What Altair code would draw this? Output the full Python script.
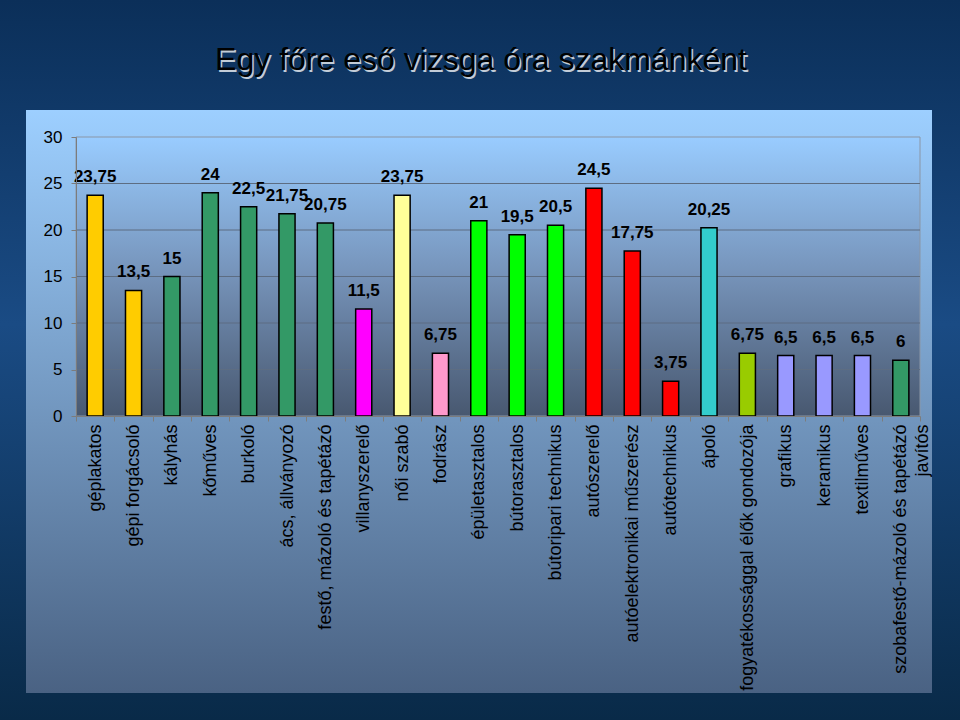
import altair as alt
import pandas as pd

# ---------------- data ----------------
categories = [
    "géplakatos", "gépi forgácsoló", "kályhás", "kőműves", "burkoló",
    "ács,  állványozó", "festő, mázoló és tapétázó", "villanyszerelő",
    "női  szabó", "fodrász", "épületasztalos", "bútorasztalos",
    "bútoripari technikus", "autószerelő", "autóelektronikai műszerész",
    "autótechnikus", "ápoló", "fogyatékossággal élők gondozója",
    "grafikus", "keramikus", "textilműves",
    "szobafestő-mázoló és tapétázó\njavítós",
]
values = [23.75, 13.5, 15, 24, 22.5, 21.75, 20.75, 11.5, 23.75, 6.75, 21,
          19.5, 20.5, 24.5, 17.75, 3.75, 20.25, 6.75, 6.5, 6.5, 6.5, 6]
bar_colors = [
    "#FFCC00", "#FFCC00", "#339966", "#339966", "#339966", "#339966",
    "#339966", "#FF00FF", "#FFFF99", "#FF99CC", "#00FF00", "#00FF00",
    "#00FF00", "#FF0000", "#FF0000", "#FF0000", "#33CCCC", "#99CC00",
    "#9999FF", "#9999FF", "#9999FF", "#339966",
]
y_ticks = [0, 5, 10, 15, 20, 25, 30]
grid_levels = [5, 10, 15, 20, 25]
title_text = "Egy főre eső vizsga óra szakmánként"

# ---------------- layout ----------------
W, H = 844, 279
PAD = {"left": 76, "top": 137, "right": 40, "bottom": 304}
FONT = "Liberation Sans, Arial, sans-serif"

df = pd.DataFrame({"cat": categories, "value": values})
grid_df = pd.DataFrame({"value": grid_levels})
one = alt.Data(values=[{"k": 0}])


def vgrad(stops):
    return alt.LinearGradient(
        gradient="linear", x1=0, x2=0, y1=0, y2=1,
        stops=[alt.GradientStop(color=c, offset=o) for o, c in stops],
    )


x_axis = alt.Axis(
    labelAngle=-90, labelAlign="right", labelBaseline="middle",
    labelFont=FONT, labelFontSize=18, labelColor="#000000",
    labelPadding=3, labelLimit=400, labelLineHeight=22, labelOverlap=False,
    labelExpr="split(datum.label, '\\n')",
    tickBand="extent", tickSize=5, tickColor="#7c7c7c",
    domainColor="#7c7c7c", zindex=1, title=None,
)
y_axis = alt.Axis(
    values=y_ticks, labelFont=FONT, labelFontSize=17, labelColor="#000000",
    labelPadding=9, tickSize=5, tickColor="#7c7c7c", domainColor="#7c7c7c",
    grid=False, zindex=1, title=None,
)
xdef = alt.X("cat:N", sort=None,
             scale=alt.Scale(domain=categories, paddingInner=0, paddingOuter=0),
             axis=x_axis, title=None)
ydef = alt.Y("value:Q", scale=alt.Scale(domain=[0, 30], nice=False, zero=True),
             axis=y_axis, title=None)

bg = alt.Chart(one).mark_rect(
    fill=vgrad([(0, "#0b2f59"), (0.45, "#1a4b84"), (1, "#092a48")])
).encode(x=alt.value(-76), x2=alt.value(884), y=alt.value(-137), y2=alt.value(583))

panel = alt.Chart(one).mark_rect(
    fill=vgrad([(0, "#9dcfff"), (1, "#4a6283")])
).encode(x=alt.value(-50), x2=alt.value(856), y=alt.value(-27), y2=alt.value(556))

plotbg = alt.Chart(one).mark_rect(
    fill=vgrad([(0, "#99ccff"), (0.5, "#7592b8"), (1, "#485870")]),
    stroke="#8a96a6", strokeWidth=1,
).encode(x=alt.value(0), x2=alt.value(W), y=alt.value(0), y2=alt.value(H))

grid = alt.Chart(grid_df).mark_rule(color="#5d6d82", strokeWidth=1).encode(y=ydef)

bars = alt.Chart(df).mark_bar(
    width=alt.RelativeBandSize(0.42), stroke="#000000", strokeWidth=1.5
).encode(
    x=xdef, y=ydef,
    color=alt.Color("cat:N", scale=alt.Scale(domain=categories, range=bar_colors),
                    legend=None),
)

labels = alt.Chart(df).transform_calculate(
    lbl="replace(toString(datum.value), '.', ',')"
).mark_text(
    dy=-13, baseline="alphabetic", align="center", font=FONT, fontSize=17,
    fontWeight="bold", color="#000000",
).encode(x=xdef, y=ydef, text="lbl:N")

t_shadow = alt.Chart(one).mark_text(
    text=title_text, font=FONT, fontSize=32, color="#ffffff", opacity=0.75,
    align="center", baseline="alphabetic",
).encode(x=alt.value(406.5), y=alt.value(-65.5))

t_main = alt.Chart(one).mark_text(
    text=title_text, font=FONT, fontSize=32, color="#000000",
    align="center", baseline="alphabetic",
).encode(x=alt.value(405), y=alt.value(-67))

chart = alt.layer(bg, panel, plotbg, grid, bars, labels, t_shadow, t_main).properties(
    width=W, height=H, padding=PAD, autosize=alt.AutoSizeParams(type="none"),
    background="#123f70",
).configure_view(stroke=None)

chart.save("out.html", embed_options={"renderer": "svg", "actions": False})
